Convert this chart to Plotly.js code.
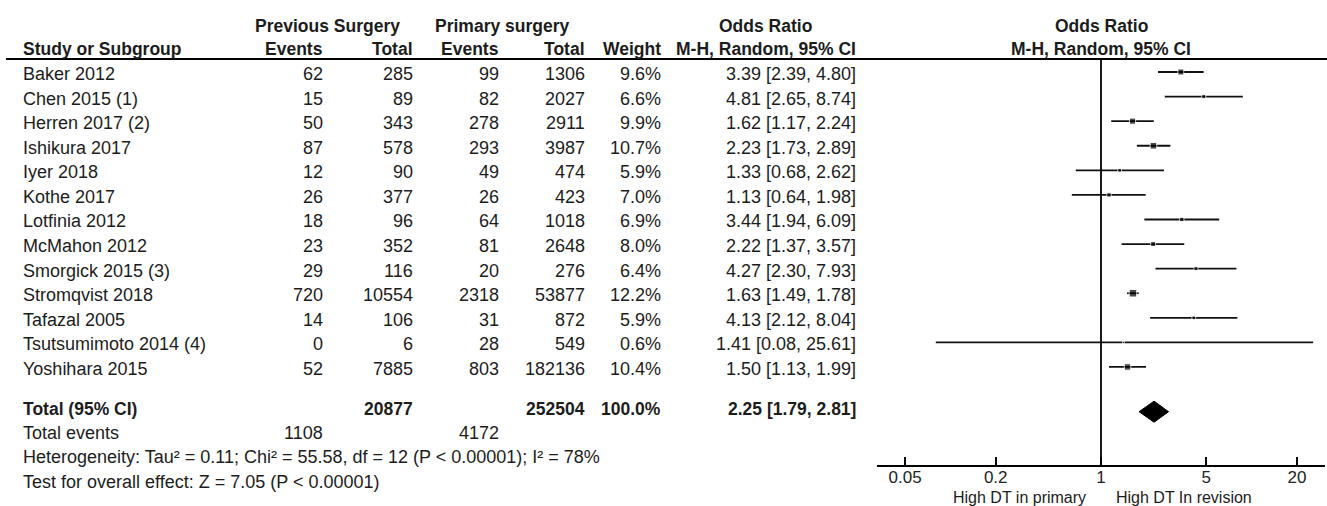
<!DOCTYPE html>
<html>
<head>
<meta charset="utf-8">
<script src="https://cdn.plot.ly/plotly-3.0.1.min.js"></script>
<style>html,body{margin:0;padding:0;background:#fff;}#chart{width:1327px;height:506px;}</style>
</head>
<body>
<div id="chart"></div>
<script>
// ---------- data ----------
const studies = ["Baker 2012","Chen 2015 (1)","Herren 2017 (2)","Ishikura 2017","Iyer 2018","Kothe 2017","Lotfinia 2012","McMahon 2012","Smorgick 2015 (3)","Stromqvist 2018","Tafazal 2005","Tsutsumimoto 2014 (4)","Yoshihara 2015"];
const prevEvents = [62,15,50,87,12,26,18,23,29,720,14,0,52];
const prevTotal  = [285,89,343,578,90,377,96,352,116,10554,106,6,7885];
const primEvents = [99,82,278,293,49,26,64,81,20,2318,31,28,803];
const primTotal  = [1306,2027,2911,3987,474,423,1018,2648,276,53877,872,549,182136];
const weights    = [9.6,6.6,9.9,10.7,5.9,7.0,6.9,8.0,6.4,12.2,5.9,0.6,10.4];
const orVal      = [3.39,4.81,1.62,2.23,1.33,1.13,3.44,2.22,4.27,1.63,4.13,1.41,1.50];
const orLow      = [2.39,2.65,1.17,1.73,0.68,0.64,1.94,1.37,2.30,1.49,2.12,0.08,1.13];
const orHigh     = [4.80,8.74,2.24,2.89,2.62,1.98,6.09,3.57,7.93,1.78,8.04,25.61,1.99];
const totalPrevTotal = 20877, totalPrimTotal = 252504, totalWeight = 100.0;
const totalOR = 2.25, totalLow = 1.79, totalHigh = 2.81;
const totalPrevEvents = 1108, totalPrimEvents = 4172;
const heterogeneityText = "Heterogeneity: Tau² = 0.11; Chi² = 55.58, df = 12 (P &lt; 0.00001); I² = 78%";
const overallText = "Test for overall effect: Z = 7.05 (P &lt; 0.00001)";
const tickVals = [0.05,0.2,1,5,20];
const tickText = ["0.05","0.2","1","5","20"];
const favLeft = "High DT in primary";
const favRight = "High DT In revision";

// ---------- layout constants ----------
const FONT = "Liberation Sans, Arial, sans-serif";
const TXT = "#1c1c1c";
const FS = 18, FSB = 17.5;
const PX = 24.58;                 // pixels per row
const Y0 = 72;                    // pixel y of first study row
const H = 506, W = 1327;
const rowTotal = 13.62, rowEvents = 14.6, rowHet = 15.6, rowTest = 16.58;
const rowHead1 = (24 - Y0)/PX, rowHead2 = (47 - Y0)/PX, rowRule = (59 - Y0)/PX;
const rowAxis = (465 - Y0)/PX, rowBottom = (H - Y0)/PX;
const TOFF = 0.08;                // text baseline nudge
const col = {name:21, pe:325, pt:415, qe:501, qt:587, w:663, or:858};

const ann = [];
function add(x, y, text, anchor, bold, xref) {
  ann.push({
    xref: xref || 'x', yref:'y', x:x, y:y + TOFF, text: bold ? '<b>'+text+'</b>' : text,
    xanchor:anchor, yanchor:'middle', showarrow:false,
    font:{family:FONT, size: bold ? FSB : FS, color:TXT}
  });
}
const fmt2 = v => v.toFixed(2);
// headers
add(327, rowHead1, "Previous Surgery", 'center', true);
add(502, rowHead1, "Primary surgery", 'center', true);
add(765, rowHead1, "Odds Ratio", 'center', true);
add(col.name, rowHead2, "Study or Subgroup", 'left', true);
add(col.pe, rowHead2, "Events", 'right', true);
add(col.pt, rowHead2, "Total", 'right', true);
add(col.qe, rowHead2, "Events", 'right', true);
add(col.qt, rowHead2, "Total", 'right', true);
add(col.w, rowHead2, "Weight", 'right', true);
add(col.or, rowHead2, "M-H, Random, 95% CI", 'right', true);
add(0, rowHead1, "Odds Ratio", 'center', true, 'x2');
add(0, rowHead2, "M-H, Random, 95% CI", 'center', true, 'x2');
// study rows
studies.forEach((s,i) => {
  add(col.name, i, s, 'left');
  add(col.pe, i, String(prevEvents[i]), 'right');
  add(col.pt, i, String(prevTotal[i]), 'right');
  add(col.qe, i, String(primEvents[i]), 'right');
  add(col.qt, i, String(primTotal[i]), 'right');
  add(col.w, i, weights[i].toFixed(1)+'%', 'right');
  add(col.or, i, fmt2(orVal[i])+' ['+fmt2(orLow[i])+', '+fmt2(orHigh[i])+']', 'right');
});
// totals
add(col.name, rowTotal, "Total (95% CI)", 'left', true);
add(col.pt, rowTotal, String(totalPrevTotal), 'right', true);
add(col.qt, rowTotal, String(totalPrimTotal), 'right', true);
add(col.w, rowTotal, totalWeight.toFixed(1)+'%', 'right', true);
add(col.or, rowTotal, fmt2(totalOR)+' ['+fmt2(totalLow)+', '+fmt2(totalHigh)+']', 'right', true);
add(col.name, rowEvents, "Total events", 'left');
add(col.pe, rowEvents, String(totalPrevEvents), 'right');
add(col.qe, rowEvents, String(totalPrimEvents), 'right');
add(col.name, rowHet, heterogeneityText, 'left');
add(col.name, rowTest, overallText, 'left');
// favours labels (x in log10 units on the log axis), sitting on the bottom edge
const FSF = 16;
ann.push({xref:'x2', yref:'y', x:0, y:rowBottom, xshift:-13, yshift:-2, text:favLeft, xanchor:'right', yanchor:'bottom', showarrow:false, font:{family:FONT,size:FSF,color:TXT}});
ann.push({xref:'x2', yref:'y', x:0, y:rowBottom, xshift:13, yshift:-2, text:favRight, xanchor:'left', yanchor:'bottom', showarrow:false, font:{family:FONT,size:FSF,color:TXT}});

// ---------- traces ----------
const rows = studies.map((s,i) => i);
const dRow = rowTotal + 0.2, dH = 0.43;
const traces = [
  { // vertical line of no effect
    x:[1,1], y:[rowRule, rowAxis], xaxis:'x2', yaxis:'y2', mode:'lines',
    line:{color:'#000', width:1.8}, hoverinfo:'skip', showlegend:false
  },
  { // study estimates with CI
    x: orVal, y: rows, xaxis:'x2', yaxis:'y2', mode:'markers', type:'scatter',
    marker:{symbol:'square', color:'#000', size: weights.map(w => Math.max(2, 0.62*w))},
    error_x:{type:'data', symmetric:false,
      array: orHigh.map((h,i) => h - orVal[i]),
      arrayminus: orLow.map((l,i) => orVal[i] - l),
      color:'#111', thickness:1.8, width:0},
    showlegend:false
  },
  { // pooled diamond
    x:[totalLow, totalOR, totalHigh, totalOR, totalLow],
    y:[dRow, dRow - dH, dRow, dRow + dH, dRow],
    xaxis:'x2', yaxis:'y2', mode:'lines', fill:'toself', fillcolor:'#000',
    line:{color:'#000', width:1}, showlegend:false
  }
];

const yTop = -Y0/PX;
const layout = {
  width:W, height:H, margin:{l:0,r:0,t:0,b:0}, paper_bgcolor:'#fff', plot_bgcolor:'rgba(0,0,0,0)',
  showlegend:false,
  xaxis:{domain:[0,1], range:[0,W], visible:false, fixedrange:true},
  yaxis:{domain:[0,1], range:[rowBottom, yTop], visible:false, fixedrange:true},
  xaxis2:{type:'log', domain:[876.6/W, 1325.4/W], range:[-1.49,1.49], anchor:'y2',
    showline:true, linecolor:'#000', linewidth:1.8, showgrid:false, zeroline:false,
    ticks:'inside', ticklen:8, tickwidth:1.8, tickcolor:'#000', ticklabelstandoff:-4,
    tickvals:tickVals, ticktext:tickText, tickfont:{family:FONT, size:17, color:'#222'}, fixedrange:true},
  yaxis2:{domain:[(H-465)/H, 1], range:[rowAxis, yTop], anchor:'x2', visible:false, fixedrange:true},
  shapes:[{type:'line', xref:'paper', yref:'y', x0:6/W, x1:1, y0:rowRule, y1:rowRule, line:{color:'#000', width:2}}],
  annotations: ann
};
Plotly.newPlot('chart', traces, layout, {displayModeBar:false, staticPlot:true});
</script>
</body>
</html>
